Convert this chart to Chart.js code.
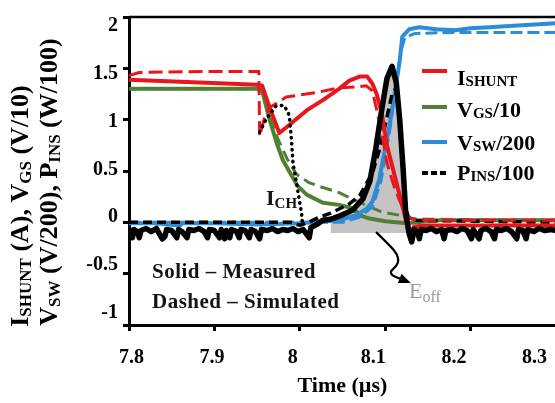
<!DOCTYPE html>
<html><head><meta charset="utf-8">
<script src="https://cdn.jsdelivr.net/npm/chart.js@4.4.1/dist/chart.umd.min.js"></script>
<style>html,body{margin:0;padding:0;background:#fff;overflow:hidden;width:555px;height:403px}#wrap{width:600px;height:403px;position:relative}</style>
</head><body><div id="wrap"><canvas id="c" width="600" height="403"></canvas></div>
<script>
const xTicks=[7.8,7.9,8,8.1,8.2,8.3];
const xTickLabels=['7.8','7.9','8','8.1','8.2','8.3'];
const yTicks=[-1,-0.5,0,0.5,1,1.5,2];
const yTickLabels=['-1','-0.5','0','0.5','1','1.5','2'];

const iShuntMeas=[[7.800,1.39],[7.830,1.38],[7.860,1.37],[7.890,1.36],[7.920,1.35],[7.950,1.34],[7.956,1.33],[7.965,1.11],[7.976,0.87],[7.988,0.95],[8.008,1.09],[8.027,1.19],[8.046,1.30],[8.058,1.38],[8.070,1.42],[8.079,1.42],[8.085,1.35],[8.090,1.25],[8.096,1.06],[8.102,0.75],[8.110,0.49],[8.121,0.13],[8.126,-0.04],[8.128,-0.11],[8.134,-0.04],[8.151,-0.03],[8.200,-0.03],[8.300,-0.03]];
const iShuntSim=[[7.800,1.43],[7.812,1.46],[7.900,1.47],[7.952,1.47],[7.953,0.84],[7.960,1.06],[7.967,1.13],[7.984,1.22],[8.023,1.27],[8.046,1.31],[8.066,1.32],[8.078,1.33],[8.085,1.28],[8.091,1.06],[8.096,0.87],[8.102,0.58],[8.110,0.36],[8.116,0.23],[8.124,0.08],[8.132,0.03],[8.152,0.02],[8.300,0.02]];
const vgsMeas=[[7.800,1.30],[7.950,1.30],[7.956,1.28],[7.965,0.99],[7.973,0.77],[7.980,0.61],[7.988,0.49],[7.997,0.36],[8.008,0.27],[8.027,0.19],[8.046,0.17],[8.061,0.14],[8.073,0.06],[8.080,0.04],[8.100,0.01],[8.125,-0.01],[8.163,0.02],[8.300,0.02]];
const vgsSim=[[7.800,1.30],[7.950,1.30],[7.956,1.29],[7.965,1.02],[7.975,0.80],[7.985,0.62],[7.996,0.47],[8.010,0.39],[8.023,0.35],[8.046,0.29],[8.061,0.23],[8.077,0.17],[8.096,0.10],[8.116,0.07],[8.126,0.04],[8.152,0.03],[8.300,0.02]];
const vswMeas=[[7.800,-0.01],[7.830,-0.01],[7.860,-0.03],[7.862,-0.01],[7.900,-0.01],[7.950,-0.02],[8.000,-0.01],[8.030,0.01],[8.046,0.02],[8.066,0.07],[8.078,0.13],[8.085,0.20],[8.093,0.42],[8.099,0.68],[8.105,0.94],[8.111,1.25],[8.117,1.57],[8.120,1.81],[8.128,1.88],[8.140,1.90],[8.160,1.88],[8.182,1.87],[8.200,1.89],[8.222,1.90],[8.260,1.92],[8.300,1.94]];
const vswSim=[[7.800,0.00],[8.050,0.00],[8.070,0.05],[8.085,0.15],[8.095,0.40],[8.105,0.88],[8.112,1.30],[8.118,1.65],[8.123,1.80],[8.135,1.84],[8.180,1.85],[8.300,1.85]];
const pInsMeas=[[7.800,-0.06],[7.804,-0.15],[7.806,-0.07],[7.810,-0.09],[7.812,-0.15],[7.814,-0.08],[7.820,-0.06],[7.826,-0.09],[7.832,-0.06],[7.839,-0.16],[7.842,-0.14],[7.844,-0.07],[7.850,-0.08],[7.856,-0.15],[7.858,-0.07],[7.862,-0.09],[7.868,-0.15],[7.870,-0.07],[7.876,-0.08],[7.882,-0.06],[7.888,-0.09],[7.892,-0.15],[7.894,-0.07],[7.900,-0.08],[7.906,-0.15],[7.908,-0.07],[7.912,-0.16],[7.914,-0.08],[7.918,-0.15],[7.920,-0.07],[7.926,-0.09],[7.929,-0.15],[7.931,-0.07],[7.936,-0.08],[7.941,-0.15],[7.943,-0.07],[7.948,-0.09],[7.953,-0.16],[7.955,-0.07],[7.962,-0.08],[7.968,-0.06],[7.974,-0.09],[7.980,-0.07],[7.986,-0.08],[7.992,-0.06],[7.998,-0.09],[8.004,-0.07],[8.011,-0.15],[8.013,-0.05],[8.020,-0.02],[8.027,0.02],[8.036,0.03],[8.046,0.06],[8.062,0.12],[8.074,0.23],[8.082,0.40],[8.089,0.72],[8.096,1.10],[8.102,1.40],[8.108,1.52],[8.113,1.36],[8.117,1.00],[8.121,0.52],[8.124,0.10],[8.128,-0.11],[8.131,-0.19],[8.134,-0.07],[8.138,-0.09],[8.140,-0.16],[8.142,-0.07],[8.148,-0.08],[8.154,-0.06],[8.160,-0.09],[8.166,-0.07],[8.169,-0.16],[8.171,-0.08],[8.178,-0.07],[8.184,-0.09],[8.190,-0.06],[8.196,-0.08],[8.201,-0.16],[8.203,-0.07],[8.210,-0.16],[8.212,-0.08],[8.218,-0.06],[8.224,-0.09],[8.228,-0.16],[8.230,-0.07],[8.236,-0.08],[8.242,-0.06],[8.248,-0.09],[8.254,-0.16],[8.256,-0.07],[8.261,-0.08],[8.265,-0.16],[8.267,-0.07],[8.274,-0.09],[8.280,-0.06],[8.287,-0.08],[8.294,-0.07],[8.300,-0.08]];
const pInsSim=[[7.800,0.00],[7.990,0.00],[8.000,-0.03],[8.010,0.00],[8.023,0.05],[8.036,0.09],[8.046,0.13],[8.058,0.18],[8.070,0.26],[8.085,0.48],[8.093,0.70],[8.102,1.02],[8.108,1.25],[8.112,1.30],[8.116,1.10],[8.120,0.60],[8.124,0.15],[8.128,0.02],[8.300,0.00]];
const iCh=[[7.953,0.88],[7.961,1.01],[7.972,1.13],[7.981,1.14],[7.986,1.08],[7.988,1.02],[7.990,0.83],[7.992,0.58],[7.997,0.34],[8.002,0.09],[8.003,0.00],[8.006,0.00]];
const eoffStart=8.03, eoffEnd=8.128, eoffBase=-0.105;
const eoffArea=pInsMeas.filter(p=>p[0]>=eoffStart&&p[0]<=eoffEnd);
const arrowPath=[[8.090,-0.10],[8.106,-0.23],[8.114,-0.31],[8.116,-0.39],[8.110,-0.45],[8.106,-0.48],[8.108,-0.52],[8.118,-0.55]];
const arrowTip=[8.130,-0.59];

const RED='#e8161b', GREEN='#537f34', BLUE='#2d8cd6', BLACK='#000000';
const FONT='"Liberation Serif", "Times New Roman", serif';
const pts=a=>a.map(([x,y])=>({x,y}));
const line=(label,data,color,width,dash,extra)=>Object.assign({label,data:pts(data),borderColor:color,backgroundColor:color,borderWidth:width,borderDash:dash||[],pointRadius:0,tension:0,fill:false,borderJoinStyle:'round'},extra||{});
const tickFont={family:FONT,size:20,weight:'bold'};
const findLabel=(ticks,labels,v)=>labels[ticks.findIndex(t=>Math.abs(t-v)<1e-9)];

function richWidth(ctx,parts,size,sub,weight){let w=0;for(const [t,s] of parts){ctx.font=`${weight} ${s?sub:size}px ${FONT}`;w+=ctx.measureText(t).width;}return w;}
function drawRich(ctx,parts,x,y,size,sub,dy,weight,color){ctx.fillStyle=color;ctx.textAlign='left';ctx.textBaseline='alphabetic';let cx=x;for(const [t,s] of parts){ctx.font=`${weight} ${s?sub:size}px ${FONT}`;ctx.fillText(t,cx,y+(s?dy:0));cx+=ctx.measureText(t).width;}}

const decor={id:'decor',afterDraw(chart){
  const ctx=chart.ctx, ca=chart.chartArea, xs=chart.scales.x, ys=chart.scales.y;
  ctx.save();
  ctx.strokeStyle='#000';ctx.lineWidth=2.5;ctx.beginPath();ctx.moveTo(ca.left,ca.top);ctx.lineTo(ca.right+10,ca.top);ctx.stroke();
  const l1=[['I',0],['SHUNT',1],[' (A), V',0],['GS',1],[' (V/10)',0]];
  const l2=[['V',0],['SW',1],[' (V/200), P',0],['INS',1],[' (W/100)',0]];
  [[l1,28,206],[l2,57,182]].forEach(([p,bx,cy])=>{ctx.save();ctx.translate(bx,cy);ctx.rotate(-Math.PI/2);const w=richWidth(ctx,p,26,17,'bold');drawRich(ctx,p,-w/2,0,26,17,3,'bold','#000');ctx.restore();});
  ctx.font=`bold 22px ${FONT}`;ctx.fillStyle='#000';ctx.textAlign='center';ctx.textBaseline='alphabetic';
  ctx.fillText('Time (µs)',(ca.left+ca.right)/2,392);
  const leg=[[[['I',0],['SHUNT',1]],RED,[],71,85],[[['V',0],['GS',1],['/10',0]],GREEN,[],107,117],[[['V',0],['SW',1],['/200',0]],BLUE,[],142,150],[[['P',0],['INS',1],['/100',0]],BLACK,[6,3],173,180]];
  leg.forEach(([p,c,d,ly,by])=>{ctx.strokeStyle=c;ctx.lineWidth=4;ctx.setLineDash(d);ctx.lineCap='butt';ctx.beginPath();ctx.moveTo(422,ly);ctx.lineTo(447,ly);ctx.stroke();ctx.setLineDash([]);drawRich(ctx,p,457,by,22,15,1,'bold','#000');});
  ctx.save();ctx.letterSpacing='0.5px';
  ctx.font=`bold 21px ${FONT}`;ctx.fillStyle='#141414';ctx.textAlign='left';
  ctx.fillText('Solid – Measured',152,278);
  ctx.fillText('Dashed – Simulated',152,308);
  ctx.restore();
  drawRich(ctx,[['I',0],['CH',1]],266,205,22,15,3,'bold','#141414');
  drawRich(ctx,[['E',0],['off',1]],409,298,22,16,4,'normal','#9b9b9b');
  const P=arrowPath.map(([t,v])=>[xs.getPixelForValue(t),ys.getPixelForValue(v)]);
  const T=[xs.getPixelForValue(arrowTip[0]),ys.getPixelForValue(arrowTip[1])];
  ctx.strokeStyle='#000';ctx.lineWidth=2.2;ctx.lineCap='round';ctx.lineJoin='round';ctx.beginPath();ctx.moveTo(P[0][0],P[0][1]);
  for(let i=1;i<P.length-1;i++){const mx=(P[i][0]+P[i+1][0])/2,my=(P[i][1]+P[i+1][1])/2;ctx.quadraticCurveTo(P[i][0],P[i][1],mx,my);}
  ctx.lineTo(P[P.length-1][0],P[P.length-1][1]);ctx.stroke();
  const L=P[P.length-1];const ang=Math.atan2(T[1]-L[1],T[0]-L[0]);
  ctx.fillStyle='#000';ctx.beginPath();ctx.moveTo(T[0],T[1]);ctx.lineTo(T[0]-12*Math.cos(ang)+5*Math.sin(ang),T[1]-12*Math.sin(ang)-5*Math.cos(ang));ctx.lineTo(T[0]-12*Math.cos(ang)-5*Math.sin(ang),T[1]-12*Math.sin(ang)+5*Math.cos(ang));ctx.closePath();ctx.fill();
  ctx.restore();
}};

new Chart(document.getElementById('c'),{
  type:'line',
  data:{datasets:[
    line('P_INS measured',pInsMeas,BLACK,5.5),
    line('I_CH',iCh,BLACK,3.5,[0.5,5.5],{borderCapStyle:'round'}),
    line('I_SHUNT measured',iShuntMeas,RED,4),
    line('I_SHUNT simulated',iShuntSim,RED,3,[14,6]),
    line('P_INS simulated',pInsSim,BLACK,3.5,[9,5]),
    line('V_SW measured',vswMeas,BLUE,4),
    line('V_SW simulated',vswSim,BLUE,3,[12,5]),
    line('V_GS measured',vgsMeas,GREEN,4),
    line('V_GS simulated',vgsSim,GREEN,3,[12,6]),
    line('E_off',eoffArea,'rgba(0,0,0,0)',0,[],{backgroundColor:'#c4c4c4',fill:{value:eoffBase}})
  ]},
  options:{
    responsive:false,animation:false,
    layout:{padding:{left:0,top:12,right:44,bottom:0}},
    plugins:{legend:{display:false},tooltip:{enabled:false},title:{display:false}},
    scales:{
      x:{type:'linear',position:'bottom',weight:0,min:7.8,max:8.3,
        afterBuildTicks:s=>{s.ticks=xTicks.map(v=>({value:v}));},
        afterFit:s=>{s.height=6;},
        ticks:{display:false},
        grid:{display:true,drawOnChartArea:false,drawTicks:true,tickLength:6,color:'#000',lineWidth:3},
        border:{display:true,color:'#000',width:3}},
      xl:{type:'linear',position:'bottom',weight:1,min:7.797,max:8.3266,
        afterBuildTicks:s=>{s.ticks=xTicks.map(v=>({value:v}));},
        afterFit:s=>{s.height=72;},
        ticks:{callback:v=>findLabel(xTicks,xTickLabels,v),font:tickFont,color:'#000',padding:15,maxRotation:0,autoSkip:false},
        grid:{display:false,drawTicks:false},border:{display:false}},
      y:{type:'linear',position:'left',weight:0,min:-1,max:2,
        afterBuildTicks:s=>{s.ticks=yTicks.map(v=>({value:v}));},
        afterFit:s=>{s.width=6;},
        ticks:{display:false},
        grid:{display:true,drawOnChartArea:false,drawTicks:true,tickLength:6,color:'#000',lineWidth:3},
        border:{display:true,color:'#000',width:3}},
      yl:{type:'linear',position:'left',weight:1,min:-1.1232,max:2.0893,
        afterBuildTicks:s=>{s.ticks=yTicks.map(v=>({value:v}));},
        afterFit:s=>{s.width=123;},
        ticks:{callback:v=>findLabel(yTicks,yTickLabels,v),font:tickFont,color:'#000',padding:5,autoSkip:false},
        grid:{display:false,drawTicks:false},border:{display:false}}
    }
  },
  plugins:[decor]
});
</script></body></html>
